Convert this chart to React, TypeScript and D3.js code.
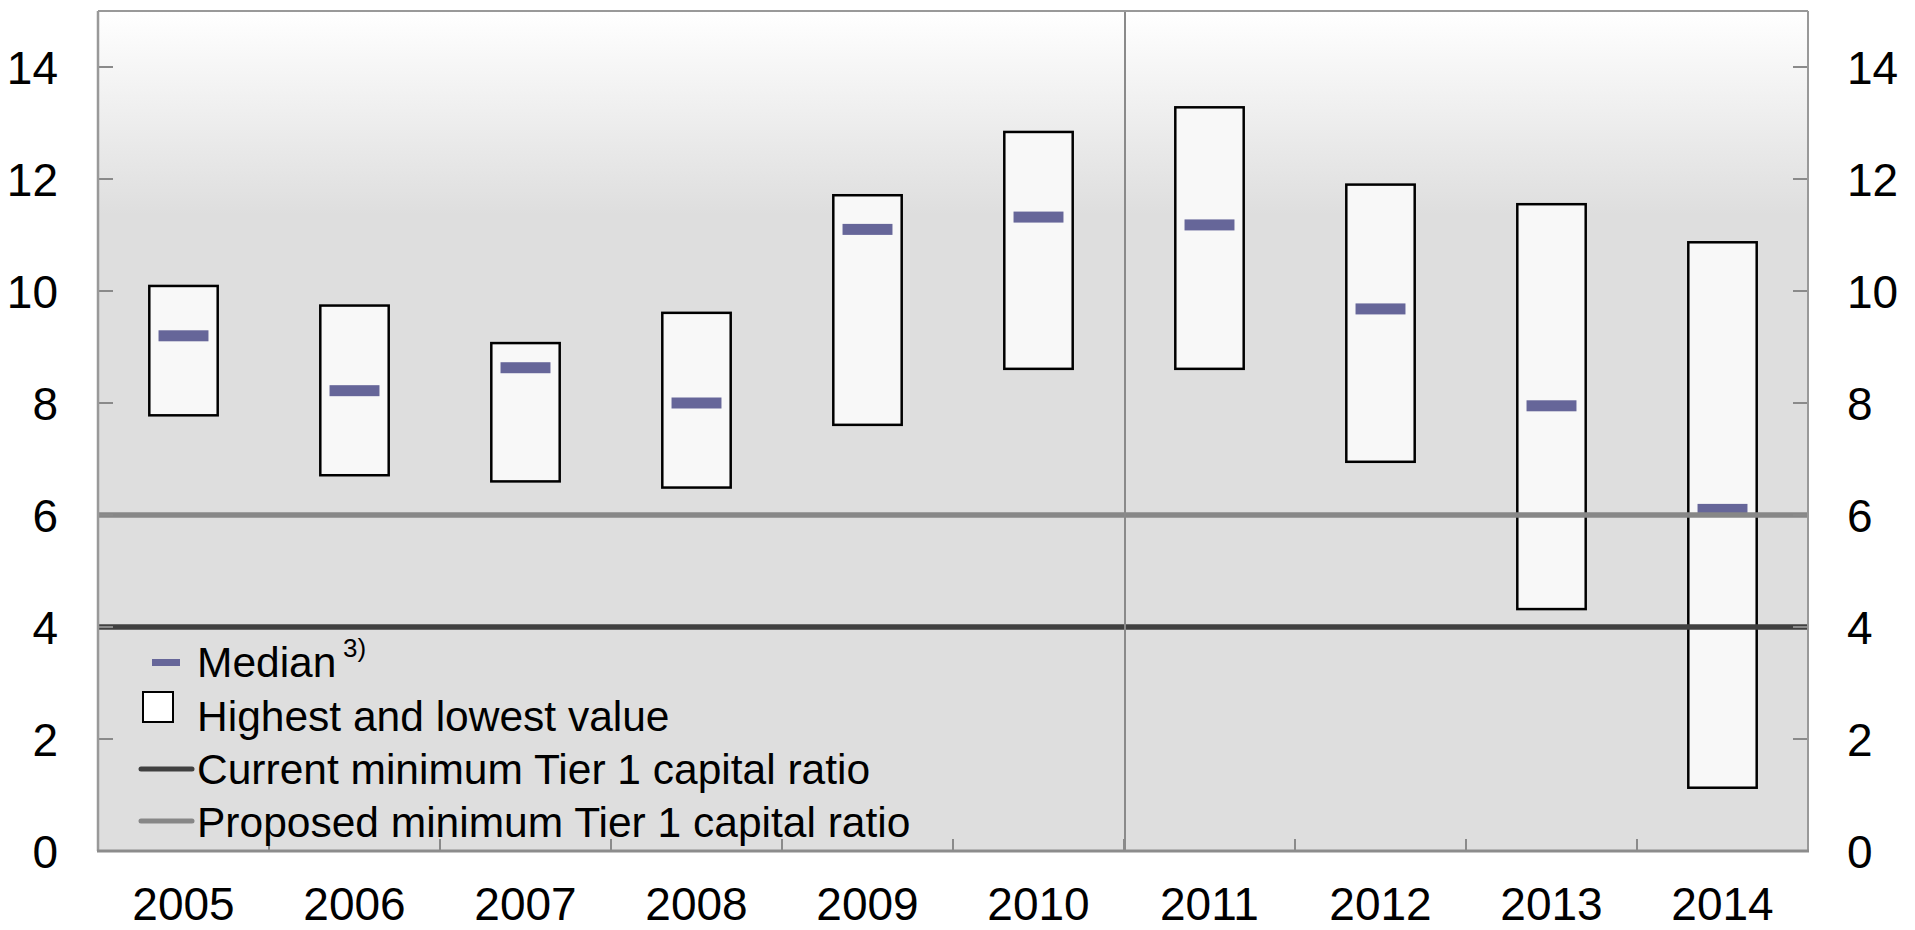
import React from "react";
import * as d3 from "d3";

const years = ["2005", "2006", "2007", "2008", "2009", "2010", "2011", "2012", "2013", "2014"];
const highValues = [10.09, 9.74, 9.07, 9.61, 11.71, 12.84, 13.28, 11.9, 11.55, 10.87];
const lowValues = [7.78, 6.71, 6.6, 6.49, 7.61, 8.61, 8.61, 6.95, 4.32, 1.13];
const medianValues = [9.2, 8.22, 8.63, 8.0, 11.1, 11.32, 11.18, 9.68, 7.95, 6.1];
const currentMinimum = 4;
const proposedMinimum = 6;
const yTicks = [0, 2, 4, 6, 8, 10, 12, 14];
const separatorAfter = "2010";
const legendLabels = [
  "Median",
  "Highest and lowest value",
  "Current minimum Tier 1 capital ratio",
  "Proposed minimum Tier 1 capital ratio",
];

const FONT = "'Liberation Sans', Arial, Helvetica, sans-serif";

export default function App() {
  const left = 98;
  const right = 1808;
  const top = 11;
  const bottom = 851;

  const x = d3.scaleBand<string>().domain(years).range([left, right]).paddingInner(0).paddingOuter(0);
  const y = d3.scaleLinear().domain([0, 15]).range([bottom, top]);
  const bw = x.bandwidth();
  const boxW = bw * 0.4;
  const medW = bw * 0.292;
  const medH = 11;

  const sepX = (x(separatorAfter) as number) + bw + 1;

  const legendX = 197;
  const legendBase = [677, 731, 784, 837];

  return (
    <svg
      width={1915}
      height={930}
      style={{ position: "absolute", left: 0, top: 0, display: "block", background: "#ffffff" }}
      fontFamily={FONT}
    >
      <defs>
        <linearGradient id="bg" gradientUnits="userSpaceOnUse" x1={0} y1={top} x2={0} y2={215}>
          <stop offset="0" stopColor="#ffffff" />
          <stop offset="1" stopColor="#dedede" />
        </linearGradient>
      </defs>
      <rect x={left} y={top} width={right - left} height={bottom - top} fill="url(#bg)" />

      {/* boxes */}
      {years.map((yr, i) => {
        const cx = (x(yr) as number) + bw / 2;
        return (
          <rect
            key={"b" + yr}
            x={cx - boxW / 2}
            y={y(highValues[i])}
            width={boxW}
            height={y(lowValues[i]) - y(highValues[i])}
            fill="#f8f8f8"
            stroke="#000000"
            strokeWidth={2.5}
          />
        );
      })}
      {/* medians */}
      {years.map((yr, i) => {
        const cx = (x(yr) as number) + bw / 2;
        return (
          <rect
            key={"m" + yr}
            x={cx - medW / 2}
            y={y(medianValues[i]) - medH / 2}
            width={medW}
            height={medH}
            fill="#666699"
          />
        );
      })}

      {/* minimum lines */}
      <line x1={left} x2={right} y1={y(proposedMinimum)} y2={y(proposedMinimum)} stroke="#878787" strokeWidth={5.5} />
      <line x1={left} x2={right} y1={y(currentMinimum)} y2={y(currentMinimum)} stroke="#404040" strokeWidth={5.5} />

      {/* separator */}
      <line x1={sepX} x2={sepX} y1={top} y2={bottom} stroke="#8a8a8a" strokeWidth={2} />

      {/* y ticks */}
      {yTicks.map((t) => (
        <g key={"yt" + t}>
          <line x1={left} x2={left + 15} y1={y(t)} y2={y(t)} stroke="#8a8a8a" strokeWidth={2} />
          <line x1={right - 15} x2={right} y1={y(t)} y2={y(t)} stroke="#8a8a8a" strokeWidth={2} />
          <text x={58} y={y(t) + 16.5} fontSize={46} textAnchor="end" fill="#000">
            {t}
          </text>
          <text x={1847} y={y(t) + 16.5} fontSize={46} textAnchor="start" fill="#000">
            {t}
          </text>
        </g>
      ))}

      {/* x ticks */}
      {years.slice(1).map((yr) => (
        <line
          key={"xt" + yr}
          x1={x(yr) as number}
          x2={x(yr) as number}
          y1={bottom}
          y2={bottom - 12}
          stroke="#8a8a8a"
          strokeWidth={2}
        />
      ))}

      {/* frame */}
      <line x1={left} x2={right} y1={top} y2={top} stroke="#999999" strokeWidth={2} />
      <line x1={left} x2={left} y1={top} y2={bottom} stroke="#999999" strokeWidth={2.5} />
      <line x1={right} x2={right} y1={top} y2={bottom} stroke="#999999" strokeWidth={2} />
      <line x1={left - 1} x2={right + 1} y1={bottom} y2={bottom} stroke="#8c8c8c" strokeWidth={3} />

      {/* x labels */}
      {years.map((yr) => (
        <text
          key={"xl" + yr}
          x={(x(yr) as number) + bw / 2}
          y={920}
          fontSize={46}
          textAnchor="middle"
          fill="#000"
        >
          {yr}
        </text>
      ))}

      {/* legend */}
      <rect x={152} y={659} width={28} height={7} fill="#666699" />
      <text x={legendX} y={legendBase[0]} fontSize={42.5} fill="#000">
        {legendLabels[0]}
      </text>
      <text x={343} y={657} fontSize={26} fill="#000">
        3)
      </text>

      <rect x={143} y={692} width={30} height={30} fill="#ffffff" stroke="#000" strokeWidth={2} />
      <text x={legendX} y={legendBase[1]} fontSize={42.5} fill="#000">
        {legendLabels[1]}
      </text>

      <line x1={141} x2={192} y1={769} y2={769} stroke="#404040" strokeWidth={5} strokeLinecap="round" />
      <text x={legendX} y={legendBase[2]} fontSize={42.5} fill="#000">
        {legendLabels[2]}
      </text>

      <line x1={141} x2={192} y1={821} y2={821} stroke="#878787" strokeWidth={5} strokeLinecap="round" />
      <text x={legendX} y={legendBase[3]} fontSize={42.5} fill="#000">
        {legendLabels[3]}
      </text>
    </svg>
  );
}
